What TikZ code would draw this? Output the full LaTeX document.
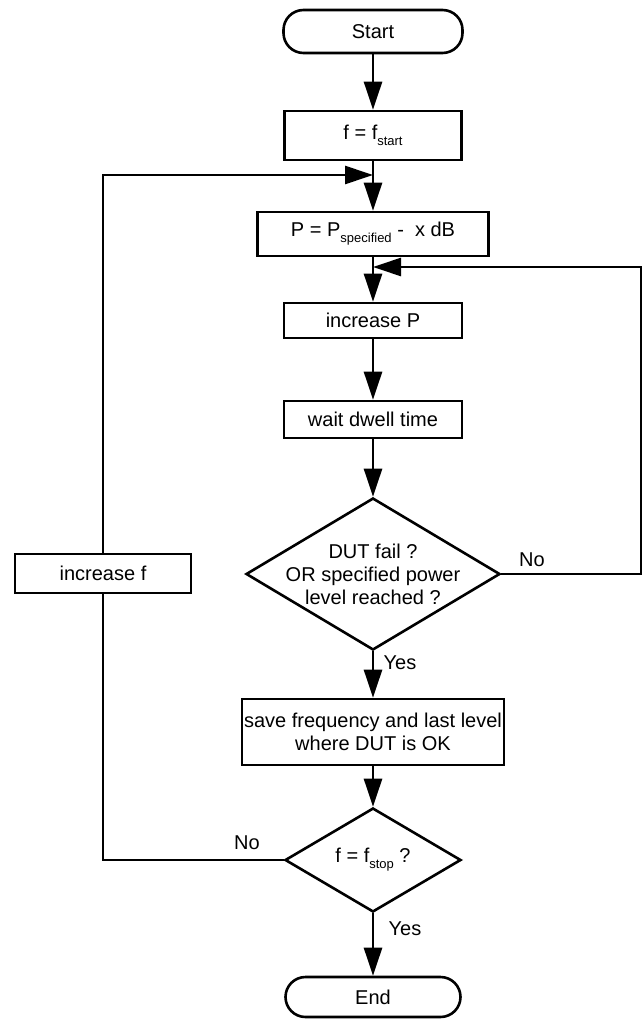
\documentclass[tikz,border=0pt]{standalone}
\usepackage{fontspec}
\setmainfont{Liberation Sans}
\usetikzlibrary{arrows.meta,shapes.geometric}
\newcommand{\mysub}[1]{\raisebox{-6pt}{\fontsize{13}{13}\selectfont #1}}
\begin{document}
\begin{tikzpicture}[x=1pt,y=-1pt, font=\fontsize{20}{23}\selectfont,
  box/.style={draw, line width=2.6pt, rectangle, inner sep=0pt, align=center},
  term/.style={box, rounded corners=20pt},
  dec/.style={draw, line width=2.6pt, diamond, inner sep=0pt},
  conn/.style={line width=2.6pt},
  arr/.style={conn, -{Triangle[length=28pt,width=18pt]}},
  lbl/.style={inner sep=0pt}]
\useasboundingbox (0,0) rectangle (643,1019);
\node[term, minimum width=179pt, minimum height=43pt] (start) at (373,31.5) {Start};
\node[box, minimum width=177pt, minimum height=49pt] (fs) at (373,135.5) {f = f\mysub{start}};
\node[box, minimum width=231pt, minimum height=44pt] (pset) at (373,234) {P = P\mysub{specified} -\ \ x dB};
\node[box, minimum width=178pt, minimum height=35pt] (incp) at (373,320.5) {increase P};
\node[box, minimum width=178pt, minimum height=37pt] (wait) at (373,419.5) {wait dwell time};
\node[dec, minimum width=254pt, minimum height=152pt] (d1) at (373,574) {};
\node[align=center] (d1t) at (373,574) {DUT fail ?\\OR specified power\\level reached ?};
\node[box, minimum width=262pt, minimum height=66pt] (save) at (373,732) {save frequency and last level\\where DUT is OK};
\node[dec, minimum width=176pt, minimum height=104pt] (d2) at (373,860) {};
\node (d2t) at (373,860) {f = f\mysub{stop} ?};
\node[term, minimum width=175pt, minimum height=40pt] (end) at (373,997) {End};
\node[box, minimum width=176pt, minimum height=39pt] (incf) at (103,573.5) {increase f};
\coordinate (ja) at (373,175);
\coordinate (jb) at (373,267);
\coordinate (r1) at (641,574);
\draw[arr] (start) -- (fs);
\draw[arr] (fs) -- (pset);
\draw[arr] (incf.north) |- (ja);
\draw[arr] (pset) -- (incp);
\draw[arr] (d1.east) -- (r1) |- (jb);
\draw[arr] (incp) -- (wait);
\draw[arr] (wait) -- (d1);
\draw[arr] (d1) -- (save);
\draw[arr] (save) -- (d2);
\draw[arr] (d2) -- (end);
\draw[conn] (d2.west) -| (incf.south);
\node[lbl] (no1) at (532,560) {No};
\node[lbl] (yes1) at (400,663) {Yes};
\node[lbl] (no2) at (247,843) {No};
\node[lbl] (yes2) at (405,929) {Yes};
\end{tikzpicture}
\end{document}
